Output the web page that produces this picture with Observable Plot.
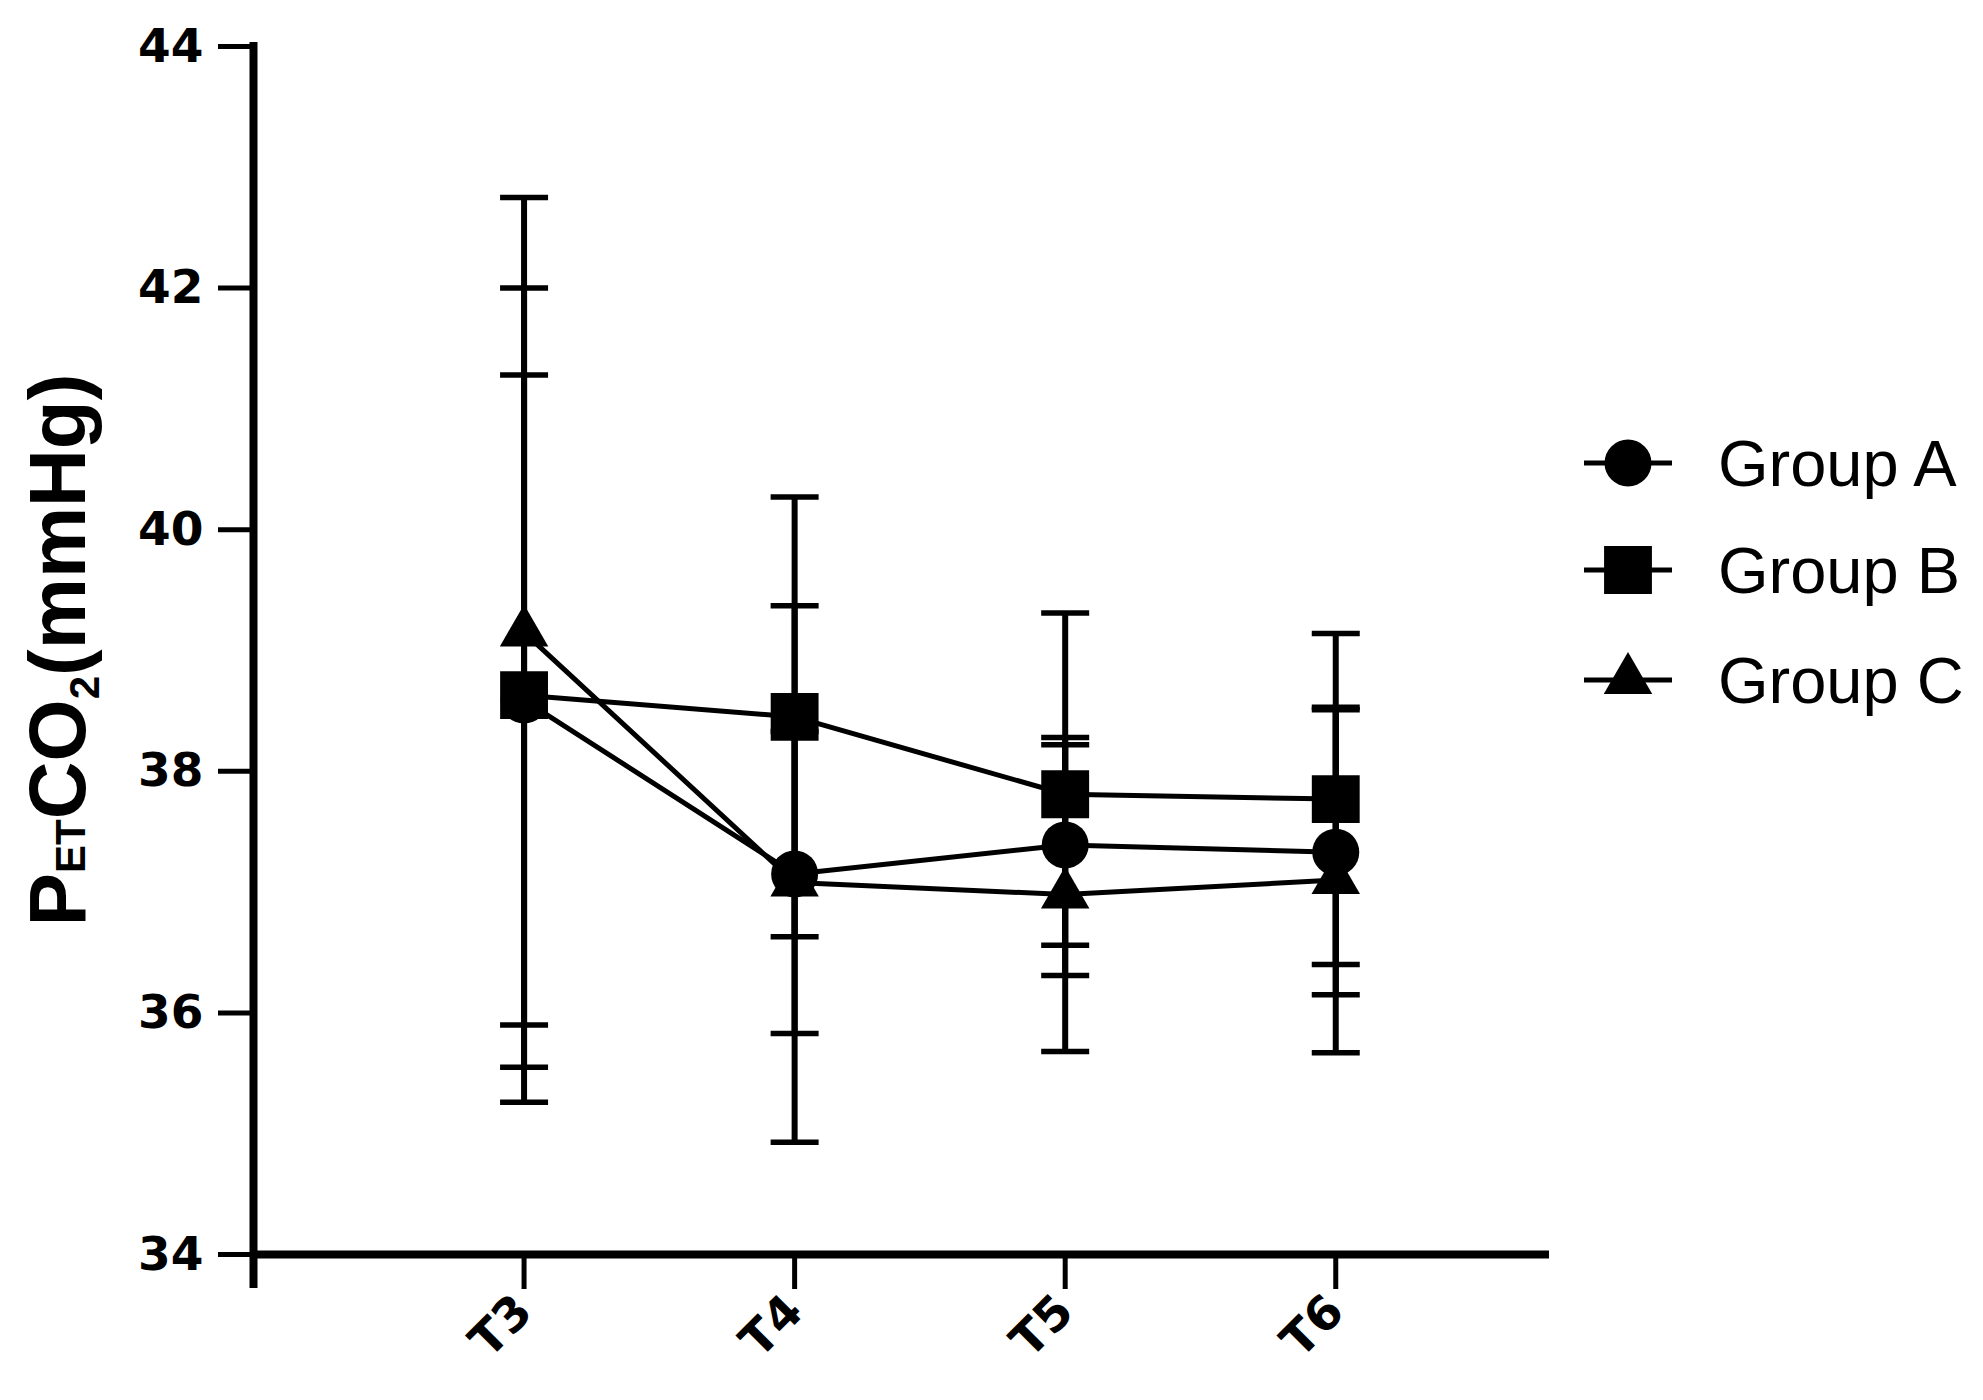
<!DOCTYPE html>
<html>
<head>
<meta charset="utf-8">
<script src="https://cdn.jsdelivr.net/npm/d3@7"></script>
<script src="https://cdn.jsdelivr.net/npm/@observablehq/plot@0.6"></script>
<style>
  html, body { margin: 0; padding: 0; background: #fff; }
  #wrap { position: relative; width: 1983px; height: 1400px; background: #fff; }
  #legend { position: absolute; left: 1580px; top: 0; font-family: "Liberation Sans", Arial, sans-serif; font-size: 65px; color: #000; }
  .lrow { position: absolute; left: 0; display: flex; align-items: center; white-space: nowrap; }
  .lrow svg { display: block; }
  .lrow span { margin-left: 44px; line-height: 1; }
</style>
</head>
<body>
<div id="wrap"></div>
<script>
// ---- data ----
const times = ["T3", "T4", "T5", "T6"];
const groups = ["Group A", "Group B", "Group C"];
const meanA = [38.59, 37.15, 37.39, 37.33];
const sdA   = [2.69, 2.22, 0.83, 1.18];
const meanB = [38.63, 38.45, 37.81, 37.77];
const sdB   = [3.37, 1.82, 1.50, 1.37];
const meanC = [39.15, 37.08, 36.98, 37.10];
const sdC   = [3.60, 1.25, 1.30, 1.43];
const yTicks = [34, 36, 38, 40, 42, 44];
const symbols = ["circle", "square", "triangle"];

// ---- table built from the arrays ----
const means = [meanA, meanB, meanC];
const sds = [sdA, sdB, sdC];
const rows = [];
groups.forEach((g, gi) => {
  times.forEach((t, ti) => {
    rows.push({group: g, gi, time: t, xi: ti + 1, mean: means[gi][ti], sd: sds[gi][ti],
               lo: means[gi][ti] - sds[gi][ti], hi: means[gi][ti] + sds[gi][ti]});
  });
});

// horizontal cap symbol for error bars
const capSymbol = {
  draw(context, size) {
    const w = Math.sqrt(size / Math.PI);
    context.moveTo(-w, 0);
    context.lineTo(w, 0);
  }
};
const symbolR = {circle: 23.5, square: 27, triangle: 18};

const chart = Plot.plot({
  width: 1983,
  height: 1400,
  marginLeft: 253,
  marginRight: 434,
  marginTop: 46,
  marginBottom: 146,
  style: {background: "#fff", color: "#000", fontFamily: "DejaVu Sans", fontWeight: "bold", fontSize: "47px"},
  x: {domain: [0, 4.79]},
  y: {domain: [34, 44]},
  marks: [
    Plot.axisY({ticks: yTicks, tickSize: 35, tickPadding: 15, strokeWidth: 5, fontSize: 47, fontWeight: "bold", fontFamily: "DejaVu Sans", label: null, tickFormat: d => String(d)}),
    Plot.axisX({ticks: [1, 2, 3, 4], tickFormat: d => times[d - 1], tickSize: 35, tickPadding: 14, tickRotate: -45, strokeWidth: 5, fontSize: 47, fontWeight: "bold", fontFamily: "DejaVu Sans", label: null}),
    Plot.ruleY([34], {stroke: "#000", strokeWidth: 8}),
    Plot.ruleX([0], {stroke: "#000", strokeWidth: 8, insetBottom: -34, insetTop: -4}),
    Plot.ruleX(rows, {x: "xi", y1: "lo", y2: "hi", stroke: "#000", strokeWidth: 6}),
    Plot.dot(rows, {x: "xi", y: "hi", symbol: capSymbol, r: 24, stroke: "#000", strokeWidth: 5.5, fill: "none"}),
    Plot.dot(rows, {x: "xi", y: "lo", symbol: capSymbol, r: 24, stroke: "#000", strokeWidth: 5.5, fill: "none"}),
    Plot.line(rows, {x: "xi", y: "mean", z: "group", stroke: "#000", strokeWidth: 5}),
    ...groups.map((g, gi) => Plot.dot(rows.filter(d => d.gi === gi), {x: "xi", y: "mean", symbol: symbols[gi], r: symbolR[symbols[gi]], fill: "#000", stroke: "none"}))
  ]
});

// y-axis title with subscripts
const yScale = chart.scale("y");
const yMid = (yScale.apply(34) + yScale.apply(44)) / 2;
const label = d3.select(chart).append("text")
  .attr("transform", `translate(${253 - 168},${yMid}) rotate(-90)`)
  .attr("text-anchor", "middle")
  .attr("font-family", "Liberation Sans, Arial, sans-serif")
  .attr("font-weight", "bold")
  .attr("font-size", 80)
  .attr("fill", "#000");
label.append("tspan").text("P");
label.append("tspan").attr("font-size", 42).text("ET");
label.append("tspan").text("CO");
label.append("tspan").attr("font-size", 42).attr("dy", 14).text("2");
label.append("tspan").attr("dy", -14).text("(mmHg)");

document.getElementById("wrap").appendChild(chart);

// legend
const legend = document.createElement("div");
legend.id = "legend";
const rowCenters = [463, 570, 680];
groups.forEach((g, gi) => {
  const row = document.createElement("div");
  row.className = "lrow";
  row.style.top = (rowCenters[gi] - 40) + "px";
  row.style.height = "80px";
  const s = d3.create("svg").attr("width", 94).attr("height", 80);
  s.append("line").attr("x1", 4).attr("x2", 92).attr("y1", 40).attr("y2", 40).attr("stroke", "#000").attr("stroke-width", 5);
  const symType = [d3.symbolCircle, d3.symbolSquare, d3.symbolTriangle][gi];
  const r = symbolR[symbols[gi]];
  s.append("path").attr("transform", "translate(48,40)").attr("d", d3.symbol(symType, Math.PI * r * r)()).attr("fill", "#000");
  row.appendChild(s.node());
  const t = document.createElement("span");
  t.textContent = g;
  row.appendChild(t);
  legend.appendChild(row);
});
document.getElementById("wrap").appendChild(legend);
</script>
</body>
</html>
